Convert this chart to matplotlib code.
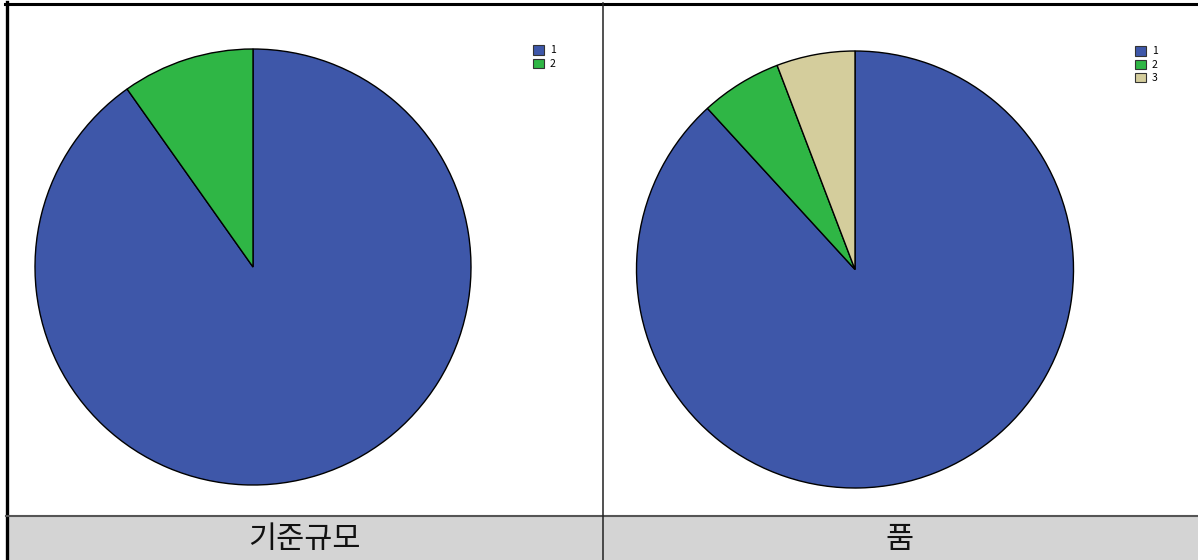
import matplotlib.pyplot as plt
from matplotlib.patches import Rectangle, Patch

plt.rcParams['font.family'] = ['Noto Sans CJK KR', 'DejaVu Sans']

# data
labels_left = ['1', '2']
values_left = [90.2, 9.8]
labels_right = ['1', '2', '3']
values_right = [88.2, 6.0, 5.8]
titles = ['기준규모', '품']
colors = ['#3e57a9', '#2fb645', '#d4cd9c']

W, H = 1198, 560
fig = plt.figure(figsize=(W / 100, H / 100), dpi=100)

# background / table frame in pixel coords
bg = fig.add_axes([0, 0, 1, 1])
bg.set_xlim(0, W)
bg.set_ylim(H, 0)
bg.axis('off')
bg.add_patch(Rectangle((6, 515), W - 6, H - 515, facecolor='#d4d4d4', edgecolor='none'))
bg.plot([6.5, 6.5], [2, H], color='black', lw=2.4)
bg.plot([5, W], [3.5, 3.5], color='black', lw=2.2)
bg.plot([6, W], [515.5, 515.5], color='#555555', lw=1.5)
bg.plot([602.5, 602.5], [3, H], color='#222222', lw=1.1)
bg.text(304, 539, titles[0], ha='center', va='center', fontsize=22, color='#111111')
bg.text(900, 539, titles[1], ha='center', va='center', fontsize=22, color='#111111')


def draw_pie(cx, cy, r, vals, labs, leg_x, leg_y):
    ax = fig.add_axes([(cx - r) / W, (H - cy - r) / H, 2 * r / W, 2 * r / H])
    ax.pie(vals, colors=colors[:len(vals)], startangle=90, counterclock=False,
           wedgeprops=dict(edgecolor='black', linewidth=1.0))
    ax.set_xlim(-1, 1)
    ax.set_ylim(-1, 1)
    ax.axis('off')
    handles = [Patch(facecolor=colors[i], edgecolor='#333333', linewidth=0.8)
               for i in range(len(labs))]
    fig.legend(handles, labs, loc='upper left', bbox_to_anchor=(leg_x / W, 1 - leg_y / H),
               frameon=False, fontsize=7.5, handlelength=1.0, handleheight=1.0,
               handletextpad=0.6, labelspacing=0.3, borderpad=0)


draw_pie(253, 267, 218, values_left, labels_left, 528, 40)
draw_pie(855, 269.5, 218.5, values_right, labels_right, 1130, 41)

fig.savefig('out.png', dpi=100)
